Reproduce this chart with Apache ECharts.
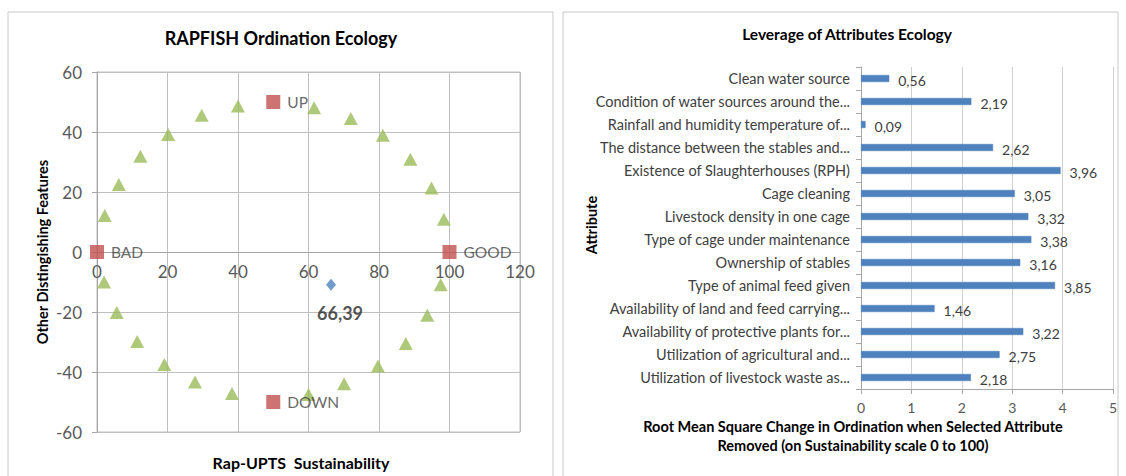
<!DOCTYPE html>
<html>
<head>
<meta charset="utf-8">
<script src="https://cdn.jsdelivr.net/npm/echarts@6/dist/echarts.min.js"></script>
<style>
  html, body { margin: 0; padding: 0; background: #fff; }
  #main { width: 1126px; height: 476px; }
</style>
</head>
<body>
<div id="main"></div>
<script>
  // ordination: the triangle cloud
  var ordX = [2.2, 6.2, 12.3, 20.2, 29.7, 40.0, 61.6, 72.0, 81.1, 88.9, 94.9, 98.4,
              2.0, 5.6, 11.4, 19.1, 27.8, 38.3, 60.0, 70.1, 79.7, 87.6, 93.7, 97.5];
  var ordY = [12.2, 22.5, 31.9, 39.2, 45.6, 48.7, 48.1, 44.5, 38.9, 30.9, 21.3, 10.9,
              -10.0, -20.2, -29.8, -37.5, -43.3, -47.2, -47.5, -43.9, -38.0, -30.5, -21.1, -10.9];
  // reference points
  var anchorNames = ['BAD', 'GOOD', 'UP', 'DOWN'];
  var anchorX = [0, 100, 50, 50];
  var anchorY = [0, 0, 50, -50];
  // status point
  var statusX = 66.39;
  var statusY = -10.9;
  var xTicks = [0, 20, 40, 60, 80, 100, 120];
  var yTicks = [-60, -40, -20, 0, 20, 40, 60];

  // leverage
  var attributes = [
    'Clean water source',
    'Condition of water sources around the...',
    'Rainfall and humidity temperature of...',
    'The distance between the stables and...',
    'Existence of Slaughterhouses (RPH)',
    'Cage cleaning',
    'Livestock density in one cage',
    'Type of cage under maintenance',
    'Ownership of stables',
    'Type of animal feed given',
    'Availability of land and feed carrying...',
    'Availability of protective plants for...',
    'Utilization of agricultural and...',
    'Utilization of livestock waste as...'
  ];
  var leverage = [0.56, 2.19, 0.09, 2.62, 3.96, 3.05, 3.32, 3.38, 3.16, 3.85, 1.46, 3.22, 2.75, 2.18];
  var levTicks = [0, 1, 2, 3, 4, 5];

  var FONT = 'Lato';
  var chart = echarts.init(document.getElementById('main'), null, { renderer: 'svg' });

  var triData = ordX.map(function (x, i) { return [x, ordY[i]]; });
  var anchorData = anchorNames.map(function (n, i) { return { name: n, value: [anchorX[i], anchorY[i]] }; });

  function txt(x, y, text, size, rot) {
    return {
      type: 'text', x: x, y: y, rotation: rot || 0,
      style: { text: text, font: 'bold ' + size + 'px ' + FONT, fill: '#000', textAlign: 'center', textVerticalAlign: 'middle' }
    };
  }

  var option = {
    animation: false,
    backgroundColor: '#fff',
    textStyle: { fontFamily: FONT },
    graphic: [
      { type: 'rect', shape: { x: 8, y: 12, width: 545, height: 470 }, style: { fill: 'none', stroke: '#c8c8c8', lineWidth: 1 } },
      { type: 'rect', shape: { x: 563, y: 12, width: 555, height: 470 }, style: { fill: 'none', stroke: '#c8c8c8', lineWidth: 1 } },
      txt(281, 38, 'RAPFISH Ordination Ecology', 18),
      txt(42, 252, 'Other Distingishing Features', 14.5, Math.PI / 2),
      txt(301, 462, 'Rap-UPTS  Sustainability', 16),
      txt(847, 34, 'Leverage of Attributes Ecology', 15.5),
      txt(591, 225, 'Attribute', 14.5, Math.PI / 2),
      txt(853, 426, 'Root Mean Square Change in Ordination when Selected Attribute', 14.5),
      txt(853, 445, 'Removed (on Sustainability scale 0 to 100)', 14.5)
    ],
    grid: [
      { left: 97, top: 72, width: 423, height: 360, show: true, borderColor: '#bfbfbf', borderWidth: 1 },
      { left: 861, top: 67, width: 252, height: 322 }
    ],
    xAxis: [
      {
        gridIndex: 0, type: 'value', min: xTicks[0], max: xTicks[xTicks.length - 1], interval: 20,
        position: 'bottom', offset: -180,
        axisLine: { show: true, onZero: false, lineStyle: { color: '#a6a6a6' } },
        axisTick: { show: false },
        axisLabel: { color: '#595959', fontSize: 17, fontFamily: FONT, margin: 11 },
        splitLine: { show: true, lineStyle: { color: '#bfbfbf' } }
      },
      {
        gridIndex: 1, type: 'value', min: levTicks[0], max: levTicks[levTicks.length - 1], interval: 1,
        axisLine: { show: true, lineStyle: { color: '#a6a6a6' } },
        axisTick: { show: true, length: 5, lineStyle: { color: '#a6a6a6' } },
        axisLabel: { color: '#595959', fontSize: 14, fontFamily: FONT, margin: 11 },
        splitLine: { show: true, lineStyle: { color: '#d0d0d0' } }
      }
    ],
    yAxis: [
      {
        gridIndex: 0, type: 'value', min: yTicks[0], max: yTicks[yTicks.length - 1], interval: 20,
        axisLine: { show: true, onZero: false, lineStyle: { color: '#a6a6a6' } },
        axisTick: { show: true, length: 5, lineStyle: { color: '#a6a6a6' } },
        axisLabel: { color: '#595959', fontSize: 17, fontFamily: FONT, margin: 15 },
        splitLine: { show: true, lineStyle: { color: '#bfbfbf' } }
      },
      {
        gridIndex: 1, type: 'category', data: attributes, inverse: true,
        axisLine: { show: true, lineStyle: { color: '#a6a6a6' } },
        axisTick: { show: true, length: 5, lineStyle: { color: '#a6a6a6' } },
        axisLabel: { color: '#404040', fontSize: 14.5, fontFamily: FONT, margin: 11 },
        splitLine: { show: false }
      }
    ],
    series: [
      {
        type: 'scatter', xAxisIndex: 0, yAxisIndex: 0,
        symbol: 'triangle', symbolSize: [14, 13],
        itemStyle: { color: '#9bbb59' },
        data: triData
      },
      {
        type: 'scatter', xAxisIndex: 0, yAxisIndex: 0,
        symbol: 'rect', symbolSize: 14,
        itemStyle: { color: '#c0504d' },
        label: { show: true, position: 'right', distance: 7, formatter: '{b}', color: '#404040', fontSize: 15.5, fontFamily: FONT },
        data: anchorData
      },
      {
        type: 'scatter', xAxisIndex: 0, yAxisIndex: 0,
        symbol: 'diamond', symbolSize: [10, 12],
        itemStyle: { color: '#4f81bd' },
        label: {
          show: true, position: 'bottom', distance: 5, offset: [9, 8],
          formatter: function (p) { return p.value[0].toFixed(2).replace('.', ','); },
          color: '#262626', fontSize: 18, fontWeight: 'bold', fontFamily: FONT
        },
        data: [[statusX, statusY]]
      },
      {
        type: 'bar', xAxisIndex: 1, yAxisIndex: 1,
        barWidth: 7,
        itemStyle: { color: '#4f81bd', borderColor: '#4a7ebb', borderWidth: 0.5 },
        label: {
          show: true, position: 'right', distance: 9, offset: [0, 2],
          formatter: function (p) { return p.value.toFixed(2).replace('.', ','); },
          color: '#404040', fontSize: 14, fontFamily: FONT
        },
        data: leverage
      }
    ]
  };

  chart.setOption(option);
</script>
</body>
</html>
